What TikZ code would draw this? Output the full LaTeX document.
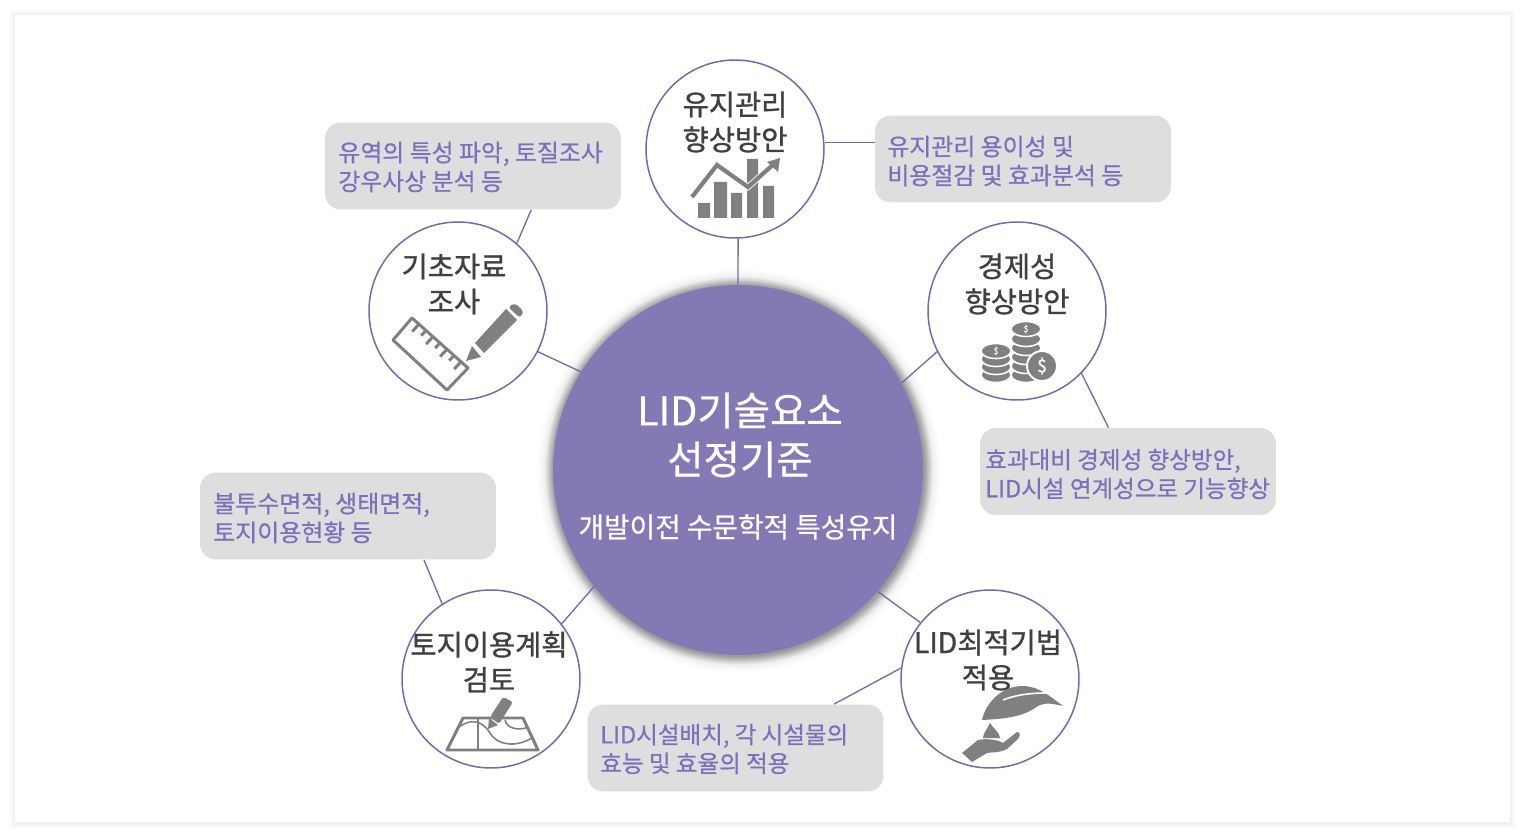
\documentclass[tikz,border=0pt]{standalone}
\usepackage{fontspec}
\setmainfont{Noto Sans CJK KR}
\newfontfamily\heavyfont[FakeBold=1.1]{Noto Sans CJK KR}
\newfontfamily\mediumfont[FakeBold=0.6]{Noto Sans CJK KR}
\usetikzlibrary{calc,positioning}
\definecolor{corepurple}{HTML}{8579B5}
\definecolor{ringpurple}{HTML}{7468B0}
\definecolor{notepurple}{HTML}{7C70BA}
\definecolor{notegray}{HTML}{DEDEDE}
\definecolor{icongray}{HTML}{808080}
\definecolor{labelgray}{HTML}{404040}
\tikzset{
  stage/.style={circle,draw=ringpurple,line width=0.85pt,fill=white,minimum size=3.56cm,inner sep=0pt},
  stagelabel/.style={text=labelgray,font=\heavyfont\fontsize{16.2}{20}\selectfont,align=center,inner sep=0pt},
  note/.style={rounded corners=9pt,fill=notegray,text=notepurple,minimum width=5.92cm,minimum height=1.74cm,inner sep=0pt},
  notetext/.style={text=notepurple,font=\mediumfont\fontsize{13.6}{16.4}\selectfont,align=left,inner sep=0pt,anchor=west},
  link/.style={ringpurple,line width=0.75pt},
  icon/.style={fill=icongray,draw=none},
  iconline/.style={draw=icongray,line width=1.7pt,line join=round}
}
\begin{document}
\begin{tikzpicture}[x=0.02cm,y=-0.02cm]
    \useasboundingbox (0,0) rectangle (1525,837);
    % sheet with a soft edge
    \fill[white] (0,0) rectangle (1525,837);
    \foreach \s in {1,2,3,4,5}
      \fill[black,opacity=0.012] (15-\s,15-\s) rectangle (1510+\s,823+\s);
    \fill[white] (15,15) rectangle (1510,822);
    % glow round the core
    \foreach \r/\o in {202/0.008,200/0.012,198/0.016,196/0.02,194/0.03,193/0.035,192/0.04,191/0.045,190/0.05,189/0.05,188/0.05,187/0.05,186/0.05}
      \fill[black,opacity=\o] (739,471) circle[radius=\r];
    \node[circle,fill=corepurple,minimum size=7.4cm,inner sep=0pt] (core) at (738,470) {};
    % five stages
    \node[stage] (upkeep) at (735,149) {};
    \node[stage] (survey) at (458,311) {};
    \node[stage] (econ) at (1017,311) {};
    \node[stage] (landuse) at (491,679) {};
    \node[stage] (lidfit) at (990,679) {};
    % grey notes
    \node[note] (surveynote) at (473,166) {};
    \node[note] (upkeepnote) at (1023,159) {};
    \node[note] (econnote) at (1128,471.5) {};
    \node[note] (landnote) at (348,516) {};
    \node[note] (lidnote) at (735.5,748) {};
    % connectors
    \draw[link] (core.90.3) -- (upkeep.-88.7);
    \draw[link] (upkeep.4.5) -- (upkeep.4.5 -| upkeepnote.west);
    \draw[link] (survey.49) -- (surveynote.-37);
    \draw[link] (survey.-27) -- (core.148.5);
    \draw[link] (econ.207.4) -- (core.28.9);
    \draw[link] (econ.-44) -- (econnote.114.7);
    \draw[link] (landuse.38.8) -- (core.219.6);
    \draw[link] (landuse.123) -- (landnote.-30.5);
    \draw[link] (lidfit.141.6) -- (core.-41);
    \draw[link] (lidfit.173.6) -- (lidnote.24.3);
    % texts
    \node[white,font=\mediumfont\fontsize{22.5}{27.8}\selectfont,align=center,inner sep=0pt] (coretitle) at (740,435) {LID기술요소\\선정기준};
    \node[white,font=\mediumfont\fontsize{15.8}{19}\selectfont,inner sep=0pt] (coresub) at (738,527) {개발이전 수문학적 특성유지};
    \node[stagelabel] (upkeeplabel) at (735,122) {유지관리\\향상방안};
    \node[stagelabel] (surveylabel) at (454,284) {기초자료\\조사};
    \node[stagelabel] (econlabel) at (1017,284) {경제성\\향상방안};
    \node[stagelabel] (landuselabel) at (489,662) {토지이용계획\\검토};
    \node[stagelabel] (lidfitlabel) at (988,660) {LID최적기법\\적용};
    \node[notetext] (surveytext) at (338,167) {유역의 특성 파악, 토질조사\\강우사상 분석 등};
    \node[notetext] (upkeeptext) at (887,161) {유지관리 용이성 및\\비용절감 및 효과분석 등};
    \node[notetext,font=\mediumfont\fontsize{13.4}{16.4}\selectfont] (econtext) at (985,474) {효과대비 경제성 향상방안,\\LID시설 연계성으로 기능향상};
    \node[notetext] (landtext) at (213,518) {불투수면적, 생태면적,\\토지이용현황 등};
    \node[notetext,font=\mediumfont\fontsize{13.4}{16.4}\selectfont] (lidtext) at (600,749) {LID시설배치, 각 시설물의\\효능 및 효율의 적용};
    % chart icon
    \fill[icon] (698,203) rectangle (710,218) (714,182) rectangle (727,218) (731,193) rectangle (742,218) (747,159) rectangle (758,218) (763,186) rectangle (774,218);
    \draw[white,line width=3.4pt] (692,197) -- (717,165) -- (748,187) -- (775,163);
    \draw[icongray,line width=2.4pt] (692,197) -- (717,165) -- (748,187) -- (775,163);
    \fill[icon] (767,162) -- (780,158) -- (778,172) -- cycle;
    % ruler and pencil icon
    \draw[iconline] (412,318) -- (468,368) -- (447,390) -- (393,340) -- cycle;
    \foreach \i/\l in {1/10,2/7,3/10,4/7,5/10,6/7,7/10}
      \draw[iconline] ($(412,318)!\i/8!(468,368)$) -- ++(-0.68*\l,0.73*\l);
    \fill[icon] (466,361) -- (472,346) -- (481,357) -- cycle;
    \fill[icon] (475,343) -- (506,309) -- (517,320) -- (484,353) -- cycle;
    \fill[icon,rounded corners=2pt] (508,307) -- (515,303) -- (524,312) -- (520,318) -- cycle;
    % coin icon
    \foreach \y in {375,367,359,351}
      \draw[fill=icongray,draw=white,line width=0.9pt] (996,\y) ellipse (15 and 7.5);
    \foreach \y in {375,366,357,348,339,329}
      \draw[fill=icongray,draw=white,line width=0.9pt] (1026,\y) ellipse (15 and 7.5);
    \draw[fill=icongray,draw=white,line width=1.1pt] (1042,366) circle[radius=15];
    \node[white,font=\heavyfont\fontsize{5}{5}\selectfont,inner sep=0pt] (leftcoin) at (996,351) {\$};
    \node[white,font=\heavyfont\fontsize{5}{5}\selectfont,inner sep=0pt] (rightcoin) at (1026,329) {\$};
    \node[white,font=\heavyfont\fontsize{10}{10}\selectfont,inner sep=0pt] (frontcoin) at (1042,366) {\$};
    % map icon
    \draw[iconline] (463,718) -- (523,718) -- (538,750) -- (447,750) -- cycle;
    \draw[icongray,line width=0.9pt] (478,718) -- (478,750);
    \draw[icongray,line width=0.9pt] (458,728) .. controls (470,718) and (482,720) .. (490,733) .. controls (497,745) and (515,748) .. (532,738);
    \draw[icongray,line width=0.9pt] (505,720) .. controls (507,729) and (518,730) .. (526,728);
    \fill[icon] (488,729) -- (489,718) -- (498,725) -- cycle;
    \fill[icon,rounded corners=1.5pt] (490,717) -- (503,697) -- (513,702) -- (499,724) -- cycle;
    % leaf and hand icon
    \fill[icon] (982,720) .. controls (985,705) and (1000,685) .. (1025,686) .. controls (1040,687) and (1052,698) .. (1063,706) .. controls (1050,703) and (1043,702) .. (1035,708) .. controls (1020,718) and (1000,719) .. cycle;
    \draw[white,line width=0.9pt] (1003,700) .. controls (1015,695) and (1030,693) .. (1047,693);
    \fill[icon] (990,723) .. controls (993,728) and (1000,733) .. (1000,738) -- (983,738) .. controls (983,733) and (988,728) .. cycle;
    \fill[icon] (962,753) -- (978,740) .. controls (988,738) and (998,740) .. (1003,743) -- (1017,732) .. controls (1021,732) and (1020,737) .. (1018,739) -- (1007,749) .. controls (1000,753) and (992,752) .. (987,753) -- (972,762) -- cycle;
  \end{tikzpicture}
\end{document}
